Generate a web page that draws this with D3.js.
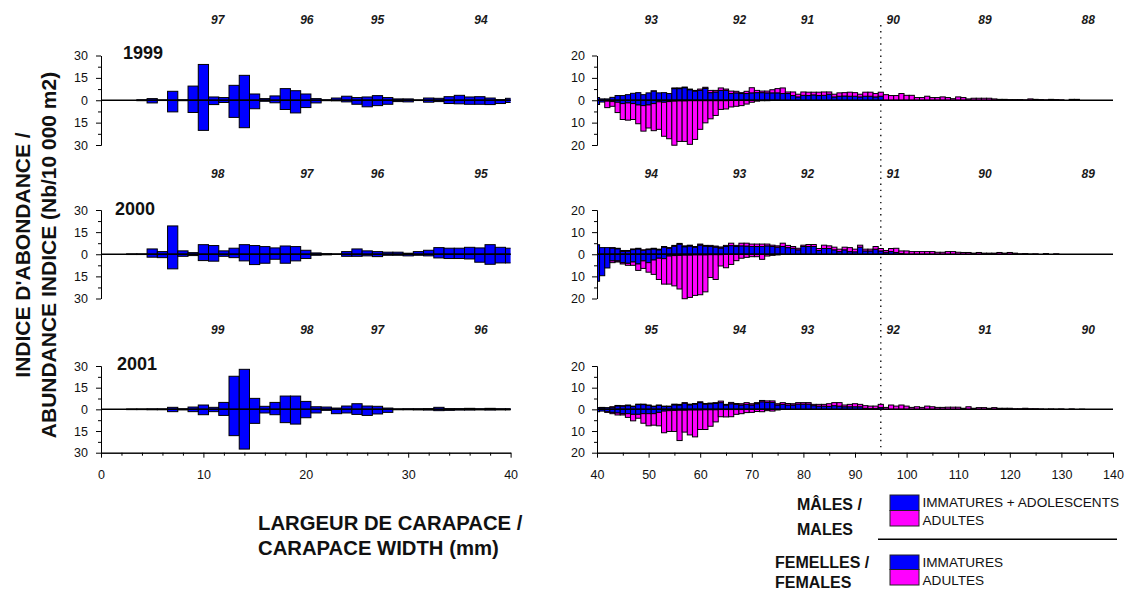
<!DOCTYPE html>
<html>
<head>
<meta charset="utf-8">
<script src="https://cdn.jsdelivr.net/npm/d3@7"></script>
<style>
  html, body { margin: 0; padding: 0; background: #fff; }
  svg { display: block; font-family: "Liberation Sans", Arial, sans-serif; }
</style>
</head>
<body>
<svg id="chart" width="1127" height="590"></svg>
<script>
// Size classes (carapace width, mm)
const smallSizes = d3.range(1, 41);
const largeSizes = d3.range(40, 141);

// Survey years and cohort (year-class) labels
const years = ["1999", "2000", "2001"];
const cohortPosSmall = [11.4, 20.1, 27.0, 37.1];
const cohortPosLarge = [50.5, 67.6, 80.8, 97.4, 115.2, 135.2];
const cohorts1999 = ["97", "96", "95", "94", "93", "92", "91", "90", "89", "88"];
const cohorts2000 = ["98", "97", "96", "95", "94", "93", "92", "91", "90", "89"];
const cohorts2001 = ["99", "98", "97", "96", "95", "94", "93", "92", "91", "90"];

// Axis ticks
const smallYTicks = [-30, -15, 0, 15, 30];
const largeYTicks = [-20, -10, 0, 10, 20];
const smallXTicks = [0, 10, 20, 30, 40];
const largeXTicks = [40, 50, 60, 70, 80, 90, 100, 110, 120, 130, 140];

// ---- 1999 ----
const males1999Small = [0,0,0,0.3,1.1,0.2,6,0.3,9.5,24,2.2,1.8,10,16.7,4.2,1.1,2.9,7.8,6.4,4.2,1.1,0.3,1.5,2.7,1.8,2.2,3.1,1.8,0.9,0.9,0.2,1.5,1.3,2.4,3.3,2.2,2.4,1.5,0.4,1.3];
const females1999Small = [0,0,0,0.3,1.8,0.2,7.8,0.3,8.2,20.2,2.9,1.5,11.5,18.4,5.7,0.7,1.7,6.2,8.5,4.9,1.8,0.3,0.4,1.1,2.7,4.4,3.6,2.7,0.9,1.1,0.2,1.3,0.9,2.2,2.4,2.7,2.7,2.9,2.2,1.5];
const maleImm1999 = [1.2,0.6,0.6,1.3,2.1,2.1,2.5,3.1,3.4,2.5,3.3,4.1,3.3,3.4,3.0,5.2,5.2,5.6,4.7,4.1,4.4,5.3,3.4,3.7,4.4,4.4,3.0,3.3,3.0,3.0,3.3,3.4,3.4,3.3,3.3,3.3,3.0,3.0,2.1,1.5,2.2,2.1,2.4,2.1,2.2,2.7,1.5,1.8,1.9,1.8,1.8,1.5,1.8,1.8,1.5,1.8,0,0,0,0,0,0,0,0,0,0,0,0,0,0,0,0,0,0,0,0,0,0,0,0,0,0,0,0,0,0,0,0,0,0,0,0,0,0,0,0,0,0,0,0,0];
const maleAd1999 = [0,0,0,0,0,0,0,0,0,0,0,0.1,0,0,0,0.3,0.3,0.3,0.3,0.3,0.6,0.5,1.0,0.7,1.1,0.6,1.1,0.7,0.4,1.0,2.3,1.0,0.7,0.8,1.4,1.9,2.5,0.7,1.6,1.2,1.5,1.5,1.2,1.5,1.5,1.0,1.2,1.5,1.5,1.8,1.6,1.2,1.8,1.8,1.5,1.8,2.5,2.1,2.1,3.0,2.2,2.2,1.2,1.2,1.8,1.2,1.2,1.5,1.2,0.7,1.5,1.2,0.6,0.9,0.9,0.9,0.9,0.6,0.4,0.4,0.3,0.3,0.3,0.2,0.6,0.4,0.3,0.2,0.4,0.3,0.2,0,0.4,0.4,0,0,0,0,0,0,0];
const femImm1999 = [1.9,0.8,0.4,0.6,0.9,1.5,1.2,1.5,2.1,2.4,2.1,1.5,0.7,0.9,0.6,0.4,0.3,0.3,0.2,0.2,0.2,0.2,0.2,0.2,0.2,0.2,0.1,0.1,0.1,0.1,0.1,0,0,0,0,0,0,0,0,0,0,0,0,0,0,0,0,0,0,0,0,0,0,0,0,0,0,0,0,0,0,0,0,0,0,0,0,0,0,0,0,0,0,0,0,0,0,0,0,0,0,0,0,0,0,0,0,0,0,0,0,0,0,0,0,0,0,0,0,0,0];
const femAd1999 = [0,0,2.9,2.1,4.6,7.1,7.7,7.1,8.4,11.4,10.3,12.1,12.3,15.2,16.6,19.7,18.1,18.1,19.5,17.3,12.8,9.9,8.1,6.6,3.9,3.7,2.9,2.6,2.3,1.6,0.8,0.4,0.2,0.2,0.1,0.1,0,0,0,0,0,0,0,0,0,0,0,0,0,0,0,0,0,0,0,0,0,0,0,0,0,0,0,0,0,0,0,0,0,0,0,0,0,0,0,0,0,0,0,0,0,0,0,0,0,0,0,0,0,0,0,0,0,0,0,0,0,0,0,0,0];

// ---- 2000 ----
const males2000Small = [0,0,0.2,0.2,3.6,1.8,19.2,2.3,1.1,6.5,5.9,2.3,4.1,6.5,5.9,5.2,4.3,5.6,5.2,2.7,0.9,0.4,0.2,1.8,3.6,2.3,1.8,1.4,1.4,0.7,1.8,2.7,4.5,4.1,4.1,4.7,4.3,6.5,4.7,4.1];
const females2000Small = [0,0,0.2,0.2,2.0,2.3,9.9,1.4,0.9,4.3,4.7,1.4,2.3,4.5,7.0,6.1,3.4,6.1,4.5,2.9,0.7,0.4,0.1,1.4,1.4,1.1,1.6,0.7,0.7,1.1,0.7,1.1,2.5,2.9,2.9,3.2,5.4,6.8,5.9,5.9];
const maleImm2000 = [4.3,3.0,3.0,2.8,2.5,1.3,1.4,2.1,2.4,1.8,2.1,2.4,2.0,3.2,2.7,3.6,4.5,3.4,3.7,3.1,4.1,3.6,3.5,3.2,2.8,3.5,3.9,3.5,3.8,3.7,3.5,3.5,3.5,3.8,3.5,3.2,3.5,3.0,2.7,2.0,3.5,3.5,3.5,1.7,2.6,2.6,2.0,1.2,2.0,1.2,1.1,3.2,1.5,1.5,2.3,1.5,0.9,1.2,0.8,0.3,0,0,0,0,0,0,0,0,0,0,0,0,0,0,0,0,0,0,0,0,0,0,0,0,0,0,0,0,0,0,0,0,0,0,0,0,0,0,0,0,0];
const maleAd2000 = [0,0,0,0.2,0.2,0.4,0.3,0.3,0.3,0.2,0.3,0.3,0.3,0.3,0.3,0.4,0.4,0.4,0.4,0.4,0.5,0.4,0.5,0.5,0.5,0.5,1.1,0.5,1.2,1.3,1.1,1.1,1.1,0.8,0.6,0.6,1.5,1.0,0.8,0.7,0.6,0.9,0.9,0.9,1.5,1.2,1.2,1.1,1.2,1.8,1.2,0.9,0.8,0.8,1.2,1.1,0.8,1.4,1.9,1.2,1.5,1.2,1.2,1.2,1.2,1.2,0.9,0.9,1.2,1.2,0.9,0.8,0.8,0.5,0.8,0.5,0.5,0.5,0.8,0.5,0.8,0.5,0.2,0.3,0.1,0.2,0,0.3,0,0.2,0,0,0,0,0,0,0,0,0,0,0];
const femImm2000 = [12.2,9.7,6.2,3.0,3.0,3.8,4.1,3.5,4.4,3.0,3.8,2.6,1.8,2.0,0.8,0.6,0.5,0.4,0.4,0.3,0.3,0.3,0.2,0.2,0.2,0.1,0.1,0.1,0.1,0.1,0,0,0,0,0,0,0,0,0,0,0,0,0,0,0,0,0,0,0,0,0,0,0,0,0,0,0,0,0,0,0,0,0,0,0,0,0,0,0,0,0,0,0,0,0,0,0,0,0,0,0,0,0,0,0,0,0,0,0,0,0,0,0,0,0,0,0,0,0,0,0];
const femAd2000 = [0,0,0,0.8,0.5,0.6,0.9,1.5,2.9,3.4,4.3,6.5,9.6,11.5,12.7,13.7,15.2,19.7,19.1,18.3,18.0,16.7,10.3,11.2,5.1,6.0,4.5,2.8,1.7,1.3,1.1,1.1,2.3,0.8,0.5,0.3,0,0,0,0,0,0,0,0,0,0,0,0,0,0,0,0,0,0,0,0,0,0,0,0,0,0,0,0,0,0,0,0,0,0,0,0,0,0,0,0,0,0,0,0,0,0,0,0,0,0,0,0,0,0,0,0,0,0,0,0,0,0,0,0,0];

// ---- 2001 ----
const males2001Small = [0,0,0.2,0.2,0.3,0.3,1.4,0.4,1.6,3.0,1.4,4.8,22.9,27.7,7.6,2.1,4.8,9.2,9.2,5.5,1.8,1.6,0.9,2.3,3.9,2.3,2.1,0.9,0.3,0.4,0.4,0.5,1.4,0.5,0.5,0.7,0.4,0.7,0.4,0.4];
const females2001Small = [0,0,0.2,0.2,0.3,0.3,1.6,0.4,1.6,3.7,1.6,4.2,18.2,27.5,9.7,2.5,3.7,9.2,10.2,5.8,2.5,0.7,3.0,2.5,3.5,4.2,3.2,2.1,0.3,0.3,0.4,0.5,0.9,0.7,0.5,0.5,0.4,0.5,0.4,0.4];
const maleImm2001 = [0.8,0.7,0.8,1.0,1.6,1.5,1.7,1.3,2.2,2.2,1.8,1.3,1.8,1.3,1.3,2.1,2.0,2.8,2.1,2.4,3.1,2.4,2.6,2.7,3.1,2.0,2.6,2.3,2.0,2.3,2.0,2.6,3.5,3.2,3.2,2.0,2.3,2.0,2.0,2.4,2.4,2.4,1.7,1.5,1.5,1.4,1.7,1.5,1.2,1.2,1.2,1.2,0.5,0.3,0.3,0.8,0,0,0,0,0,0,0,0,0,0,0,0,0,0,0,0,0,0,0,0,0,0,0,0,0,0,0,0,0,0,0,0,0,0,0,0,0,0,0,0,0,0,0,0,0];
const maleAd2001 = [0,0.2,0,0.2,0.2,0.2,0.3,0.2,0.2,0.2,0.2,0.2,0.2,0.2,0.2,0.3,0.3,0.3,0.3,0.3,0.4,0.3,0.3,0.4,0.7,0.3,0.6,0.4,0.6,0.8,0.6,0.5,0.6,0.7,0.7,0.6,0.8,0.7,0.6,0.7,0.7,0.7,0.6,0.8,0.8,1.2,1.4,1.6,0.8,1.1,1.4,1.1,1.2,1.2,1.2,1.5,0.9,2.0,1.5,2.0,1.5,0.9,1.2,0.9,1.5,1.2,0.9,0.9,1.0,1.0,1.0,0.5,1.2,0.5,0.8,0.8,0.5,0.8,0.5,0.5,0.5,0.3,0.3,0.5,0.3,0.3,0.2,0.1,0.2,0.1,0.2,0,0.2,0,0.1,0,0,0,0,0,0];
const femImm2001 = [1.1,0.8,1.1,1.4,1.7,2.0,2.0,2.3,2.3,2.0,2.0,2.0,1.4,0.8,0.6,0.5,0.4,0.4,0.3,0.3,0.3,0.2,0.2,0.2,0.1,0.1,0.1,0.1,0.1,0,0,0,0,0,0,0,0,0,0,0,0,0,0,0,0,0,0,0,0,0,0,0,0,0,0,0,0,0,0,0,0,0,0,0,0,0,0,0,0,0,0,0,0,0,0,0,0,0,0,0,0,0,0,0,0,0,0,0,0,0,0,0,0,0,0,0,0,0,0,0,0];
const femAd2001 = [0,0,0.3,0.6,0.9,0.6,1.7,3.0,1.8,4.4,5.6,5.3,6.2,10.0,9.6,9.7,14.0,10.1,11.5,12.4,9.0,9.1,7.6,5.6,3.3,3.4,3.3,2.2,1.9,1.5,1.4,1.0,1.1,0.6,0.8,0.3,0,0,0,0,0,0,0,0,0,0,0,0,0,0,0,0,0,0,0,0,0,0,0,0,0,0,0,0,0,0,0,0,0,0,0,0,0,0,0,0,0,0,0,0,0,0,0,0,0,0,0,0,0,0,0,0,0,0,0,0,0,0,0,0,0];

// Colours
const BLUE = "#0000ff";
const MAGENTA = "#ff00ff";

// Per-year series grouped for drawing
const panels = [
  { year: years[0], cohorts: cohorts1999, mS: males1999Small, fS: females1999Small, mi: maleImm1999, ma: maleAd1999, fi: femImm1999, fa: femAd1999 },
  { year: years[1], cohorts: cohorts2000, mS: males2000Small, fS: females2000Small, mi: maleImm2000, ma: maleAd2000, fi: femImm2000, fa: femAd2000 },
  { year: years[2], cohorts: cohorts2001, mS: males2001Small, fS: females2001Small, mi: maleImm2001, ma: maleAd2001, fi: femImm2001, fa: femAd2001 }
];

// Layout
const rows = [
  { top: 55.5, bottom: 145, yearX: 123, yearY: 58.5 },
  { top: 210, bottom: 298.5, yearX: 115, yearY: 214.5 },
  { top: 366, bottom: 452.7, yearX: 117, yearY: 370 }
];
const xSmall = d3.scaleLinear().domain([0, 40]).range([101, 510.6]);
const xLarge = d3.scaleLinear().domain([40, 140]).range([597, 1113]);

const svg = d3.select("#chart");
const defs = svg.append("defs");
defs.append("clipPath").attr("id", "clipSmall").append("rect")
  .attr("x", xSmall(0)).attr("y", 0).attr("width", xSmall(40) - xSmall(0)).attr("height", 590);
defs.append("clipPath").attr("id", "clipLarge").append("rect")
  .attr("x", xLarge(40)).attr("y", 0).attr("width", xLarge(140) - xLarge(40)).attr("height", 590);

function styleAxis(g, size) {
  g.selectAll("path, line").attr("stroke", "#000").attr("stroke-width", 1);
  g.selectAll("text").attr("font-size", size).attr("font-family", "'Liberation Sans', Arial, sans-serif").attr("fill", "#111");
}

// Vertical reference line at 95 mm
svg.append("line")
  .attr("x1", xLarge(95)).attr("x2", xLarge(95))
  .attr("y1", 25).attr("y2", rows[2].bottom)
  .attr("stroke", "#000").attr("stroke-width", 1.3)
  .attr("stroke-dasharray", "1.4,4.7");

panels.forEach((p, r) => {
  const row = rows[r];
  const yS = d3.scaleLinear().domain([-30, 30]).range([row.bottom, row.top]);
  const yL = d3.scaleLinear().domain([-20, 20]).range([row.bottom, row.top]);

  // ---- small sizes (immatures only) ----
  const gS = svg.append("g").attr("clip-path", "url(#clipSmall)");
  const smallData = smallSizes.map((s, i) => ({ s, m: p.mS[i], f: p.fS[i] }));
  gS.selectAll("rect.m").data(smallData.filter(d => d.m > 0)).join("rect")
    .attr("x", d => xSmall(d.s - 0.5)).attr("width", d => xSmall(d.s + 0.5) - xSmall(d.s - 0.5))
    .attr("y", d => yS(d.m)).attr("height", d => yS(0) - yS(d.m))
    .attr("fill", BLUE).attr("stroke", "#000").attr("stroke-width", 1);
  gS.selectAll("rect.f").data(smallData.filter(d => d.f > 0)).join("rect")
    .attr("x", d => xSmall(d.s - 0.5)).attr("width", d => xSmall(d.s + 0.5) - xSmall(d.s - 0.5))
    .attr("y", yS(0)).attr("height", d => yS(-d.f) - yS(0))
    .attr("fill", BLUE).attr("stroke", "#000").attr("stroke-width", 1);
  svg.append("line").attr("x1", xSmall(0)).attr("x2", xSmall(40))
    .attr("y1", yS(0)).attr("y2", yS(0)).attr("stroke", "#000").attr("stroke-width", 1.5);

  // ---- large sizes (stacked immatures + adults) ----
  const gL = svg.append("g").attr("clip-path", "url(#clipLarge)");
  const largeData = largeSizes.map((s, i) => ({ s, mi: p.mi[i], ma: p.ma[i], fi: p.fi[i], fa: p.fa[i] }));
  const segs = [];
  largeData.forEach(d => {
    if (d.mi > 0) segs.push({ s: d.s, y0: 0, y1: d.mi, c: BLUE });
    if (d.ma > 0) segs.push({ s: d.s, y0: d.mi, y1: d.mi + d.ma, c: MAGENTA });
    if (d.fi > 0) segs.push({ s: d.s, y0: -d.fi, y1: 0, c: BLUE });
    if (d.fa > 0) segs.push({ s: d.s, y0: -(d.fi + d.fa), y1: -d.fi, c: MAGENTA });
  });
  gL.selectAll("rect").data(segs).join("rect")
    .attr("x", d => xLarge(d.s - 0.5)).attr("width", d => xLarge(d.s + 0.5) - xLarge(d.s - 0.5))
    .attr("y", d => yL(d.y1)).attr("height", d => yL(d.y0) - yL(d.y1))
    .attr("fill", d => d.c).attr("stroke", "#000").attr("stroke-width", 1);
  svg.append("line").attr("x1", xLarge(40)).attr("x2", xLarge(140))
    .attr("y1", yL(0)).attr("y2", yL(0)).attr("stroke", "#000").attr("stroke-width", 1.5);

  // ---- y axes ----
  const axS = svg.append("g").attr("transform", `translate(${xSmall(0)},0)`)
    .call(d3.axisLeft(yS).tickValues(smallYTicks).tickFormat(d => Math.abs(d)).tickSize(5).tickPadding(8).tickSizeOuter(0));
  styleAxis(axS, 12.5);
  const axSm = svg.append("g").attr("transform", `translate(${xSmall(0)},0)`)
    .call(d3.axisLeft(yS).tickValues([-22.5, -7.5, 7.5, 22.5]).tickFormat("").tickSize(3).tickSizeOuter(0));
  styleAxis(axSm, 12);

  const axL = svg.append("g").attr("transform", `translate(${xLarge(40)},0)`)
    .call(d3.axisLeft(yL).tickValues(largeYTicks).tickFormat(d => Math.abs(d)).tickSize(5).tickPadding(7).tickSizeOuter(0));
  styleAxis(axL, 12.5);
  const axLm = svg.append("g").attr("transform", `translate(${xLarge(40)},0)`)
    .call(d3.axisLeft(yL).tickValues([-15, -5, 5, 15]).tickFormat("").tickSize(3).tickSizeOuter(0));
  styleAxis(axLm, 12);

  // ---- year label ----
  svg.append("text").attr("x", row.yearX).attr("y", row.yearY)
    .attr("font-size", 18).attr("font-weight", "bold").attr("fill", "#111").text(p.year);

  // ---- cohort labels ----
  const labY = row.top - 32;
  cohortPosSmall.forEach((pos, i) => {
    svg.append("text").attr("x", xSmall(pos)).attr("y", labY).attr("text-anchor", "middle")
      .attr("font-size", 12).attr("font-weight", "bold").attr("font-style", "italic").attr("fill", "#1a1a1a")
      .text(p.cohorts[i]);
  });
  cohortPosLarge.forEach((pos, i) => {
    svg.append("text").attr("x", xLarge(pos)).attr("y", labY).attr("text-anchor", "middle")
      .attr("font-size", 12).attr("font-weight", "bold").attr("font-style", "italic").attr("fill", "#1a1a1a")
      .text(p.cohorts[i + cohortPosSmall.length]);
  });
});

// ---- x axes (bottom row) ----
const axisY = rows[2].bottom;
const axXS = svg.append("g").attr("transform", `translate(0,${axisY})`)
  .call(d3.axisBottom(xSmall).tickValues(smallXTicks).tickSize(5).tickPadding(12).tickSizeOuter(0));
styleAxis(axXS, 12.5);
const axXSm = svg.append("g").attr("transform", `translate(0,${axisY})`)
  .call(d3.axisBottom(xSmall).tickValues(d3.range(2, 40, 2).filter(v => v % 10 !== 0)).tickFormat("").tickSize(3).tickSizeOuter(0));
styleAxis(axXSm, 12);
const axXL = svg.append("g").attr("transform", `translate(0,${axisY})`)
  .call(d3.axisBottom(xLarge).tickValues(largeXTicks).tickSize(5).tickPadding(12).tickSizeOuter(0));
styleAxis(axXL, 12.5);
const axXLm = svg.append("g").attr("transform", `translate(0,${axisY})`)
  .call(d3.axisBottom(xLarge).tickValues(d3.range(45, 140, 10)).tickFormat("").tickSize(3).tickSizeOuter(0));
styleAxis(axXLm, 12);

// ---- axis titles ----
const yTitle = svg.append("g").attr("font-size", 21).attr("font-weight", "bold").attr("fill", "#111");
yTitle.append("text").attr("transform", "translate(22,255) rotate(-90)").attr("text-anchor", "middle").attr("dy", "0.36em")
  .text("INDICE D'ABONDANCE /");
yTitle.append("text").attr("transform", "translate(48,255) rotate(-90)").attr("text-anchor", "middle").attr("dy", "0.36em")
  .text("ABUNDANCE INDICE (Nb/10 000 m2)");

const xTitle = svg.append("g").attr("font-size", 20.3).attr("font-weight", "bold").attr("fill", "#111");
xTitle.append("text").attr("x", 258).attr("y", 530).text("LARGEUR DE CARAPACE /");
xTitle.append("text").attr("x", 258).attr("y", 555).text("CARAPACE WIDTH (mm)");

// ---- legend ----
const leg = svg.append("g");
leg.append("text").attr("x", 797).attr("y", 510).attr("font-size", 16).attr("font-weight", "bold").attr("fill", "#111").text("MÂLES /");
leg.append("text").attr("x", 797).attr("y", 535).attr("font-size", 16).attr("font-weight", "bold").attr("fill", "#111").text("MALES");
leg.append("text").attr("x", 775).attr("y", 568).attr("font-size", 16).attr("font-weight", "bold").attr("fill", "#111").text("FEMELLES /");
leg.append("text").attr("x", 775).attr("y", 588).attr("font-size", 16).attr("font-weight", "bold").attr("fill", "#111").text("FEMALES");

const swatches = [
  { y: 495, h: 15.5, c: BLUE }, { y: 510.5, h: 15.5, c: MAGENTA },
  { y: 555, h: 14.5, c: BLUE }, { y: 569.5, h: 15.5, c: MAGENTA }
];
leg.selectAll("rect").data(swatches).join("rect")
  .attr("x", 890).attr("y", d => d.y).attr("width", 29).attr("height", d => d.h)
  .attr("fill", d => d.c).attr("stroke", "#222").attr("stroke-width", 1);

const legendLabels = [
  { y: 507.3, t: "IMMATURES + ADOLESCENTS" }, { y: 525, t: "ADULTES" },
  { y: 567.3, t: "IMMATURES" }, { y: 585, t: "ADULTES" }
];
leg.selectAll("text.lab").data(legendLabels).join("text").attr("class", "lab")
  .attr("x", 922.5).attr("y", d => d.y).attr("font-size", 13.6).attr("fill", "#111").text(d => d.t);

leg.append("line").attr("x1", 878).attr("x2", 1117).attr("y1", 539.3).attr("y2", 539.3)
  .attr("stroke", "#000").attr("stroke-width", 1.5);
</script>
</body>
</html>
